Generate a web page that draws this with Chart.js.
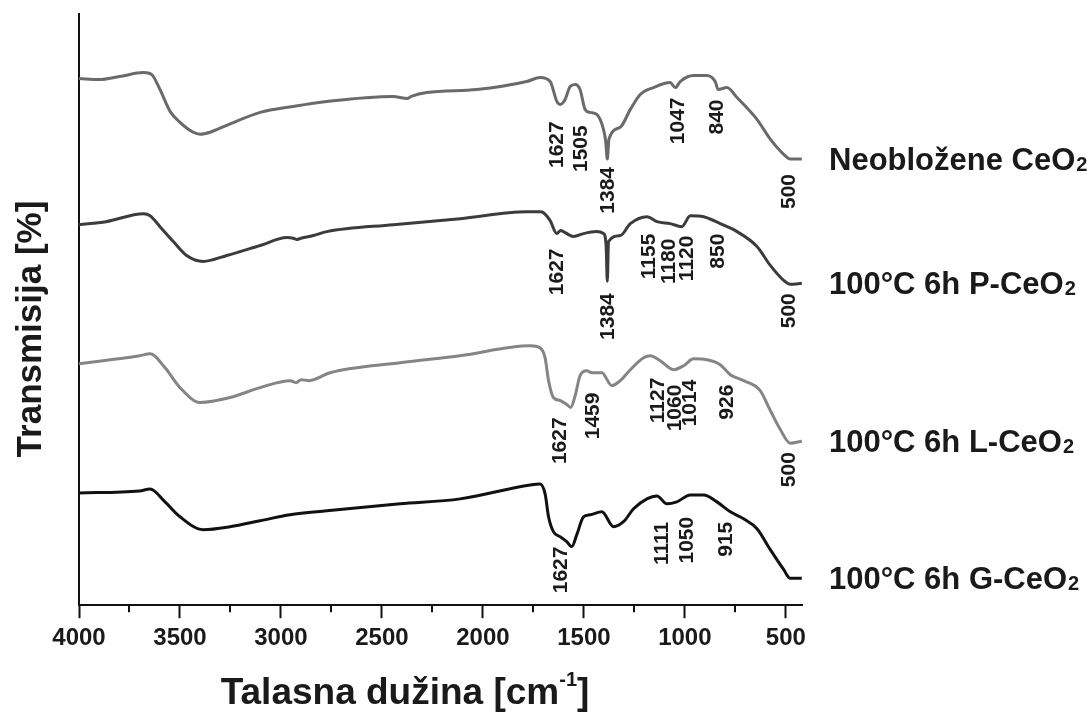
<!DOCTYPE html>
<html>
<head>
<meta charset="utf-8">
<title>FTIR CeO2</title>
<script src="https://cdn.jsdelivr.net/npm/chart.js@4.4.1/dist/chart.umd.min.js"></script>
<style>
  html, body { margin: 0; padding: 0; background: #fff; }
  #chart { display: block; }
</style>
</head>
<body>
<canvas id="chart" width="1088" height="720"></canvas>
<script>
// spectra: wavenumber (cm-1) and transmission (a.u., samples stacked)
const wnNeo = [4000, 3900, 3800, 3681, 3640, 3599, 3549, 3500, 3434, 3401, 3351, 3268, 3103, 2940, 2773, 2445, 2375, 2355, 2278, 2030, 1783, 1717, 1667, 1634, 1618, 1593, 1568, 1543, 1519, 1494, 1469, 1436, 1403, 1392, 1384, 1376, 1320, 1270, 1221, 1155, 1073, 1047, 1023, 957, 891, 850, 835, 792, 742, 643, 577, 512, 478, 421];
const trNeo = [530, 529, 532, 536, 534, 519, 497, 486, 476, 474, 476, 483, 496, 502, 507, 512, 510, 512, 516, 519, 527, 531, 527, 507, 504, 509, 522, 524, 519, 499, 496, 494, 479, 467, 449, 469, 481, 499, 514, 521, 526, 521, 527, 533, 533, 527, 519, 521, 511, 489, 469, 454, 449, 449];

const wnP = [4000, 3866, 3681, 3648, 3599, 3533, 3467, 3385, 3268, 3103, 2971, 2935, 2922, 2905, 2840, 2773, 2443, 2113, 1783, 1717, 1700, 1667, 1634, 1615, 1601, 1576, 1551, 1502, 1436, 1403, 1390, 1384, 1378, 1320, 1270, 1188, 1138, 1073, 1015, 973, 907, 825, 742, 643, 577, 511, 478, 421];
const trP = [383, 386, 394, 392, 381, 366, 352, 346, 352, 362, 370, 369, 368, 369, 372, 376, 383, 389, 396, 396, 395, 387, 374, 377, 376, 373, 371, 374, 376, 374, 362, 326, 366, 372, 384, 391, 386, 384, 381, 392, 391, 384, 376, 361, 342, 327, 323, 324];

const wnL = [4000, 3700, 3648, 3574, 3500, 3401, 3252, 3103, 2955, 2925, 2900, 2860, 2757, 2410, 2113, 1766, 1717, 1692, 1675, 1651, 1618, 1585, 1565, 1543, 1519, 1486, 1461, 1411, 1362, 1320, 1270, 1204, 1171, 1122, 1056, 1006, 957, 891, 825, 775, 709, 627, 577, 528, 478, 421];
const trL = [243, 251, 253, 239, 219, 204, 209, 219, 226, 224, 227, 226, 234, 244, 251, 261, 259, 249, 226, 209, 206, 202, 199, 211, 231, 236, 234, 234, 221, 226, 237, 249, 251, 246, 237, 241, 248, 247, 242, 232, 226, 216, 196, 177, 163, 165];

const wnG = [4000, 3700, 3648, 3574, 3500, 3385, 3252, 3103, 2955, 2773, 2410, 2113, 1766, 1717, 1692, 1675, 1651, 1618, 1585, 1560, 1535, 1502, 1469, 1411, 1353, 1304, 1254, 1188, 1138, 1089, 1040, 973, 907, 841, 775, 709, 643, 577, 511, 478, 421];
const trG = [113, 115, 117, 104, 89, 76, 79, 85, 91, 95, 102, 107, 121, 122, 112, 89, 74, 69, 64, 59, 71, 89, 91, 94, 79, 84, 97, 107, 110, 102, 104, 111, 111, 104, 94, 87, 77, 56, 36, 27, 27];

const sampleNames = ['Neobložene CeO', '100°C 6h P-CeO', '100°C 6h L-CeO', '100°C 6h G-CeO'];

// band labels: text, wavenumber where the label sits, transmission at the label's upper end
const bandsNeo = ['1627', '1505', '1384', '1047', '840', '500'];
const bandsNeoWn = [1632, 1515, 1378, 1035, 841, 482];
const bandsNeoTr = [487, 483, 441, 511, 509, 434];

const bandsP = ['1627', '1384', '1155', '1180', '1120', '850', '500'];
const bandsPWn = [1634, 1382, 1177, 1076, 990, 834, 482];
const bandsPTr = [359, 314, 374, 369, 372, 374, 314];

const bandsL = ['1627', '1459', '1127', '1060', '1014', '926', '500'];
const bandsLWn = [1618, 1453, 1134, 1048, 974, 792, 482];
const bandsLTr = [189, 214, 229, 222, 227, 222, 154];

const bandsG = ['1627', '1111', '1050', '915'];
const bandsGWn = [1614, 1114, 990, 795];
const bandsGTr = [59, 84, 89, 84];

const xTicks = [4000, 3750, 3500, 3250, 3000, 2750, 2500, 2250, 2000, 1750, 1500, 1250, 1000, 750, 500];

const lineColors = ['#6a6a6a', '#3c3c3c', '#858585', '#111111'];
const FONT = "'Liberation Sans', Arial, sans-serif";

const toPoints = (xs, ys) => xs.map((x, i) => ({ x: x, y: ys[i] }));

const series = [
  { name: sampleNames[0], pts: toPoints(wnNeo, trNeo), bands: bandsNeo, bx: bandsNeoWn, by: bandsNeoTr },
  { name: sampleNames[1], pts: toPoints(wnP, trP), bands: bandsP, bx: bandsPWn, by: bandsPTr },
  { name: sampleNames[2], pts: toPoints(wnL, trL), bands: bandsL, bx: bandsLWn, by: bandsLTr },
  { name: sampleNames[3], pts: toPoints(wnG, trG), bands: bandsG, bx: bandsGWn, by: bandsGTr },
];

// labels, minor ticks and axis titles
const annotations = {
  id: 'annotations',
  afterDatasetsDraw(chart) {
    const { ctx, chartArea, scales } = chart;
    const xs = scales.x, ys = scales.y;
    ctx.save();

    // minor ticks
    ctx.strokeStyle = '#111';
    ctx.lineWidth = 2;
    xTicks.filter(v => v % 500 !== 0).forEach(v => {
      const px = Math.round(xs.getPixelForValue(v));
      ctx.beginPath();
      ctx.moveTo(px, chartArea.bottom);
      ctx.lineTo(px, chartArea.bottom + 7);
      ctx.stroke();
    });

    // band positions, rotated
    ctx.fillStyle = '#1a1a1a';
    ctx.font = 'bold 21px ' + FONT;
    ctx.textAlign = 'right';
    ctx.textBaseline = 'middle';
    series.forEach(s => {
      s.bands.forEach((txt, i) => {
        ctx.save();
        ctx.translate(xs.getPixelForValue(s.bx[i]), ys.getPixelForValue(s.by[i]));
        ctx.rotate(-Math.PI / 2);
        ctx.fillText(txt, 0, 0);
        ctx.restore();
      });
    });

    // sample names at the end of each curve
    ctx.textAlign = 'left';
    ctx.textBaseline = 'alphabetic';
    series.forEach(s => {
      const last = s.pts[s.pts.length - 1];
      const y = ys.getPixelForValue(last.y) + 11;
      const x = chartArea.right + 27;
      ctx.font = 'bold 31px ' + FONT;
      ctx.fillText(s.name, x, y);
      const w = ctx.measureText(s.name).width;
      ctx.font = 'bold 20px ' + FONT;
      ctx.fillText('2', x + w + 1, y + 1);
    });

    // y title
    ctx.save();
    ctx.translate(31, 329);
    ctx.rotate(-Math.PI / 2);
    ctx.textAlign = 'center';
    ctx.textBaseline = 'middle';
    ctx.font = 'bold 35px ' + FONT;
    ctx.fillText('Transmisija [%]', 0, 0);
    ctx.restore();

    // x title with superscript
    const main = 'Talasna dužina [cm';
    ctx.font = 'bold 37px ' + FONT;
    const wMain = ctx.measureText(main).width;
    const wClose = ctx.measureText(']').width;
    ctx.font = 'bold 20px ' + FONT;
    const wSup = ctx.measureText('-1').width;
    const x0 = 405 - (wMain + wSup + wClose) / 2;
    const base = 704;
    ctx.font = 'bold 37px ' + FONT;
    ctx.fillText(main, x0, base);
    ctx.fillText(']', x0 + wMain + wSup, base);
    ctx.font = 'bold 20px ' + FONT;
    ctx.fillText('-1', x0 + wMain, base - 18);

    ctx.restore();
  }
};

new Chart(document.getElementById('chart'), {
  type: 'line',
  data: {
    datasets: series.map((s, i) => ({
      label: s.name + '2',
      data: s.pts,
      borderColor: lineColors[i],
      borderWidth: 3,
      pointRadius: 0,
      fill: false,
      cubicInterpolationMode: 'monotone',
    })),
  },
  options: {
    responsive: false,
    devicePixelRatio: 1,
    animation: false,
    layout: { padding: { left: 79, right: 286, top: 14, bottom: 61 } },
    plugins: { legend: { display: false }, tooltip: { enabled: false } },
    scales: {
      x: {
        type: 'linear',
        reverse: true,
        min: 420,
        max: 4000,
        afterBuildTicks: (axis) => { axis.ticks = xTicks.map(v => ({ value: v })); },
        border: { display: true, color: '#111', width: 2 },
        grid: {
          drawOnChartArea: false,
          drawTicks: true,
          tickLength: 13,
          tickWidth: 2,
          tickColor: (c) => (c.tick && c.tick.value % 500 === 0 ? '#111' : 'rgba(0,0,0,0)'),
        },
        ticks: {
          autoSkip: false,
          maxRotation: 0,
          padding: 6,
          color: '#1a1a1a',
          font: { family: FONT, size: 24, weight: 'bold' },
          callback: (v) => (v % 500 === 0 ? String(v) : ''),
        },
      },
      y: {
        min: 0,
        max: 595,
        border: { display: true, color: '#111', width: 2 },
        grid: { display: false, drawTicks: false },
        ticks: { display: false },
      },
    },
  },
  plugins: [annotations],
});
</script>
</body>
</html>
